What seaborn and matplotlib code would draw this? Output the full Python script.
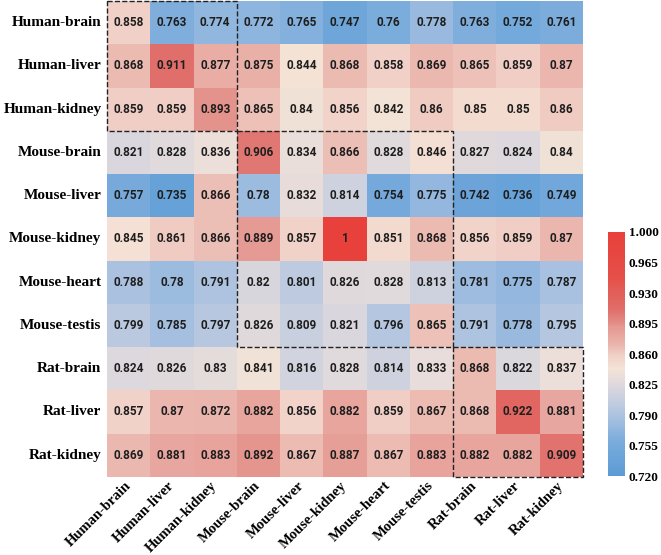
import numpy as np
import pandas as pd
import matplotlib
matplotlib.use("Agg")
import matplotlib.pyplot as plt
from matplotlib.colors import LinearSegmentedColormap
from matplotlib.patches import Rectangle
import seaborn as sns

# tissue labels (rows and columns are the same)
tissues = ["Human-brain", "Human-liver", "Human-kidney",
           "Mouse-brain", "Mouse-liver", "Mouse-kidney", "Mouse-heart", "Mouse-testis",
           "Rat-brain", "Rat-liver", "Rat-kidney"]

# species blocks for the dashed boxes (number of tissues per species)
group_sizes = [3, 5, 3]

human_brain = [0.858, 0.763, 0.774, 0.772, 0.765, 0.747, 0.76, 0.778, 0.763, 0.752, 0.761]
human_liver = [0.868, 0.911, 0.877, 0.875, 0.844, 0.868, 0.858, 0.869, 0.865, 0.859, 0.87]
human_kidney = [0.859, 0.859, 0.893, 0.865, 0.84, 0.856, 0.842, 0.86, 0.85, 0.85, 0.86]
mouse_brain = [0.821, 0.828, 0.836, 0.906, 0.834, 0.866, 0.828, 0.846, 0.827, 0.824, 0.84]
mouse_liver = [0.757, 0.735, 0.866, 0.78, 0.832, 0.814, 0.754, 0.775, 0.742, 0.736, 0.749]
mouse_kidney = [0.845, 0.861, 0.866, 0.889, 0.857, 1, 0.851, 0.868, 0.856, 0.859, 0.87]
mouse_heart = [0.788, 0.78, 0.791, 0.82, 0.801, 0.826, 0.828, 0.813, 0.781, 0.775, 0.787]
mouse_testis = [0.799, 0.785, 0.797, 0.826, 0.809, 0.821, 0.796, 0.865, 0.791, 0.778, 0.795]
rat_brain = [0.824, 0.826, 0.83, 0.841, 0.816, 0.828, 0.814, 0.833, 0.868, 0.822, 0.837]
rat_liver = [0.857, 0.87, 0.872, 0.882, 0.856, 0.882, 0.859, 0.867, 0.868, 0.922, 0.881]
rat_kidney = [0.869, 0.881, 0.883, 0.892, 0.867, 0.887, 0.867, 0.883, 0.882, 0.882, 0.909]

cbar_ticks = [0.720, 0.755, 0.790, 0.825, 0.860, 0.895, 0.930, 0.965, 1.000]

vmin, vmax = 0.72, 1.0

df = pd.DataFrame([human_brain, human_liver, human_kidney,
                   mouse_brain, mouse_liver, mouse_kidney, mouse_heart, mouse_testis,
                   rat_brain, rat_liver, rat_kidney],
                  index=tissues, columns=tissues)

# blue -> beige -> red, colour stops picked from the reference cells
stop_values = [0.72, 0.76, 0.79, 0.81, 0.828, 0.843, 0.858, 0.868, 0.89, 0.911, 0.95, 1.0]
stop_colors = ["#5b9bd5", "#7aacdc", "#adc3e0", "#cad0df", "#e2dadc", "#f4e3d6",
               "#f1d1c8", "#ebbab1", "#e59a93", "#e06e6a", "#e54f48", "#e8403a"]
cmap = LinearSegmentedColormap.from_list(
    "bwr_soft", [((v - vmin) / (vmax - vmin), c) for v, c in zip(stop_values, stop_colors)])

fig = plt.figure(figsize=(6.61, 5.55), dpi=100)
ax = fig.add_axes([0.162, 0.141, 0.720, 0.857])
cax = fig.add_axes([0.920, 0.142, 0.025, 0.440])

sns.heatmap(df, ax=ax, cbar_ax=cax, cmap=cmap, vmin=vmin, vmax=vmax,
            annot=True, fmt="g",
            annot_kws={"fontsize": 8.5, "fontfamily": "Roboto",
                       "fontweight": "bold", "color": "#1e1e1e"})

ax.tick_params(length=0)
ax.tick_params(axis="y", pad=4)
ax.tick_params(axis="x", pad=5)
ax.set_yticklabels(tissues, rotation=0, fontfamily="Liberation Serif",
                   fontweight="bold", fontsize=11)
ax.set_xticklabels(tissues, rotation=45, ha="right", va="center",
                   rotation_mode="anchor",
                   fontfamily="Liberation Serif", fontweight="bold", fontsize=10.5)
ax.set_xlabel("")
ax.set_ylabel("")

# dashed boxes around the within-species blocks
start = 0
for n in group_sizes:
    ax.add_patch(Rectangle((start, start), n, n, fill=False, edgecolor="#222222",
                           linestyle="--", linewidth=1.0, clip_on=False))
    start += n

cax.set_yticks(cbar_ticks)
cax.set_yticklabels(["%.3f" % t for t in cbar_ticks],
                    fontfamily="Liberation Serif", fontweight="bold", fontsize=9.5)
cax.tick_params(length=0, pad=3)
ax.collections[0].colorbar.outline.set_visible(False)

fig.savefig("out.png", dpi=100)
